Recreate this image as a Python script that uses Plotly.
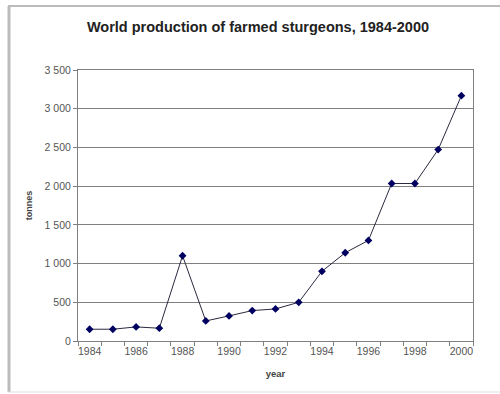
import plotly.graph_objects as go

years = list(range(1984, 2001))
tonnes = [152, 152, 182, 165, 1101, 259, 324, 393, 414, 500, 900, 1140, 1299, 2034, 2034, 2472, 3168]

y_ticks = [0, 500, 1000, 1500, 2000, 2500, 3000, 3500]
y_tick_labels = ["0", "500", "1 000", "1 500", "2 000", "2 500", "3 000", "3 500"]
x_ticks = [1984, 1986, 1988, 1990, 1992, 1994, 1996, 1998, 2000]
x_tick_labels = [str(v) for v in x_ticks]

W, H = 500, 394
L, R, T, B = 78, 27, 70, 53
pw, ph = W - L - R, H - T - B

def px(x):
    return (x - L) / pw

def py(y):
    return (H - B - y) / ph

fig = go.Figure()
fig.add_trace(go.Scatter(
    x=years, y=tonnes, mode="lines+markers",
    line=dict(color="#2a2a40", width=1),
    marker=dict(symbol="diamond", size=6, color="#000060"),
    showlegend=False, cliponaxis=False,
))

fig.update_layout(
    width=W, height=H,
    margin=dict(l=L, r=R, t=T, b=B),
    paper_bgcolor="white", plot_bgcolor="white",
    font=dict(family="Arial, Liberation Sans, sans-serif", color="#555555", size=10),
    title=dict(text="<b>World production of farmed sturgeons, 1984-2000</b>",
               x=258 / W, xanchor="center", y=1 - 27 / H, yanchor="middle",
               font=dict(size=14.5, color="#222222")),
    xaxis=dict(
        range=[1983.5, 2000.5], tickmode="array", tickvals=x_ticks, ticktext=x_tick_labels,
        ticks="", showgrid=False, zeroline=False,
        showline=True, linecolor="#808080", linewidth=1, mirror=True,
        minor=dict(tickvals=[y + 0.5 for y in range(1983, 2001)], ticks="outside",
                   ticklen=4, tickcolor="#808080", showgrid=False),
        title=dict(text="<b>year</b>", font=dict(size=9.5, color="#444444"), standoff=14),
        tickfont=dict(size=10.5),
    ),
    yaxis=dict(
        range=[0, 3500], tickmode="array", tickvals=y_ticks, ticktext=y_tick_labels,
        ticks="outside", ticklen=4, tickcolor="#808080",
        showgrid=True, gridcolor="#808080", gridwidth=1, zeroline=False,
        showline=True, linecolor="#808080", linewidth=1, mirror=True,
        title=dict(text="<b>tonnes</b>", font=dict(size=9, color="#444444"), standoff=10),
        tickfont=dict(size=10.5),
    ),
    shapes=[
        dict(type="line", xref="paper", yref="paper", x0=px(9), x1=px(9), y0=py(6), y1=py(392),
             line=dict(color="#bbbbbb", width=3)),
        dict(type="line", xref="paper", yref="paper", x0=px(8), x1=px(501), y0=py(6), y1=py(6),
             line=dict(color="#bbbbbb", width=2)),
        dict(type="line", xref="paper", yref="paper", x0=px(8), x1=px(501), y0=py(392), y1=py(392),
             line=dict(color="#dddddd", width=1)),
    ],
)

fig.write_html("out.html")
